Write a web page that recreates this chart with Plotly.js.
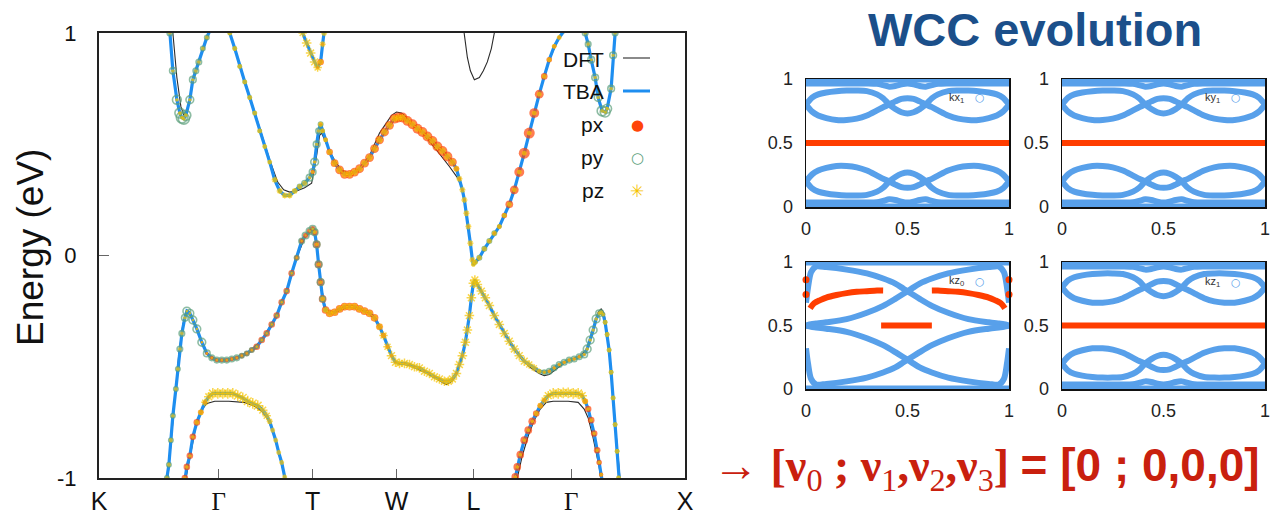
<!DOCTYPE html>
<html><head><meta charset="utf-8">
<script src="https://cdn.plot.ly/plotly-3.0.1.min.js"></script>
<style>html,body{margin:0;padding:0;background:#fff}#chart{width:1282px;height:517px}</style>
</head><body><div id="chart"></div>
<script>
// ---------- band structure: k-path ticks ----------
const kTicks = [0,120,214,298,375,473,587];
const kLabels = ['K','<span style="font-family:Liberation Serif">Γ</span>','T','W','L','<span style="font-family:Liberation Serif">Γ</span>','X'];
const eTicks = [-1,0,1];
const eLabels = ['-1','0','1'];

// ---------- TBA bands with orbital weights ----------
const c1K = [70,71,74,78,81,83,85,87,91,94, 97,100,104,108,112,119,125,131,136,141, 146,151,156,161,166,171,176,181,186,191, 196,201,206,211,214,216,218,220,222,224, 227,231,236,241,246,251,256,261,266,271, 276,281,286,291,296,300,304,309,314,319, 324,329,334,339,344,349,354,358,361,364, 366,368,370,372,374,375,377,381,386,391, 396,401,406,411,416,421,426,431,436,441, 446,451,456,461,466,471];
const c1E = [1.06,1.00,0.83,0.70,0.64,0.62,0.615,0.63,0.70,0.79, 0.83,0.87,0.93,0.98,1.02,1.07,1.04,1.00,0.93,0.85, 0.78,0.71,0.64,0.56,0.49,0.42,0.34,0.29,0.27,0.27, 0.29,0.31,0.325,0.35,0.375,0.42,0.50,0.56,0.59,0.56, 0.52,0.465,0.415,0.385,0.365,0.365,0.375,0.39,0.415,0.44, 0.48,0.52,0.555,0.585,0.615,0.62,0.62,0.605,0.59,0.57, 0.555,0.535,0.515,0.49,0.47,0.445,0.42,0.39,0.345,0.295, 0.25,0.19,0.13,0.055,-0.02,-0.04,-0.03,-0.01,0.03,0.065, 0.10,0.13,0.18,0.23,0.295,0.375,0.46,0.55,0.64,0.725, 0.805,0.88,0.94,0.98,1.01,1.04];
const c1Px = [0,0,0,0,0,0,0,0,0,0, 0,0,0,0,0,0,0,0,0,0, 0,0,0,0,0,0,0,0,0,0, 0,0,0,0.1,0.4,0.2,0,0,0.3,0.2, 0.4,0.6,0.7,0.8,0.8,0.8,0.8,0.8,0.8,0.8, 0.8,0.8,0.8,0.8,0.9,0.9,0.9,0.9,0.9,0.9, 0.9,0.9,0.9,0.9,0.9,0.9,0.8,0.5,0.3,0.2, 0.2,0.2,0.2,0.2,0.2,0.1,0.1,0.1,0.1,0.2, 0.3,0.4,0.5,0.7,0.8,0.9,1.0,1.0,0.9,0.8, 0.6,0.5,0.4,0.3,0.3,0.3];
const c1Py = [0.5,0.5,0.6,0.8,0.9,1.0,1.0,0.9,0.7,0.6, 0.5,0.5,0.4,0.4,0.4,0.3,0.3,0.3,0.3,0.3, 0.3,0.3,0.3,0.3,0.2,0.2,0.2,0.2,0.2,0.2, 0.3,0.4,0.5,0.6,0.6,0.7,0.6,0.5,0.4,0.3, 0.2,0,0,0,0,0,0,0,0,0, 0,0,0,0,0,0,0,0,0,0, 0,0,0,0,0,0,0,0,0,0, 0,0,0,0,0,0.2,0.3,0.4,0.4,0.4, 0.4,0.3,0.2,0,0,0,0,0,0,0, 0,0,0,0,0,0];
const c1Pz = [0.3,0.3,0.3,0.3,0.3,0.3,0.3,0.3,0.3,0.3, 0.3,0.3,0.3,0.3,0.3,0.3,0.3,0.4,0.4,0.4, 0.4,0.4,0.4,0.4,0.4,0.4,0.5,0.5,0.5,0.5, 0.5,0.4,0.4,0.3,0.3,0.3,0.3,0.3,0.4,0.4, 0.4,0.5,0.6,0.6,0.6,0.6,0.6,0.6,0.6,0.6, 0.6,0.6,0.6,0.6,0.6,0.6,0.6,0.6,0.6,0.6, 0.6,0.6,0.6,0.6,0.6,0.6,0.6,0.5,0.5,0.5, 0.5,0.5,0.5,0.5,0.5,0.4,0.4,0.4,0.4,0.4, 0.4,0.4,0.4,0.4,0.4,0.4,0.4,0.4,0.4,0.4, 0.4,0.4,0.4,0.4,0.4,0.4];

const c2K = [201,204,208,212,216,219,222,224,225.5,227];
const c2E = [1.05,1.00,0.955,0.91,0.87,0.845,0.87,0.95,1.00,1.06];
const c2Px = [0,0,0,0,0,0.3,0.6,0.3,0,0];
const c2Py = [0,0,0,0,0,0,0,0,0,0];
const c2Pz = [0.7,0.7,0.8,0.8,0.8,0.7,0.5,0.5,0.5,0.5];

const c3K = [484,487,490,493,497,500,504,507,509,513,515,517,518.5];
const c3E = [1.05,1.00,0.95,0.88,0.80,0.71,0.65,0.645,0.66,0.75,0.90,1.00,1.06];
const c3Px = [0,0,0,0,0,0,0,0,0,0,0,0,0];
const c3Py = [0.5,0.5,0.5,0.6,0.6,0.7,0.9,0.9,0.8,0.6,0.6,0.5,0.5];
const c3Pz = [0.3,0.3,0.3,0.3,0.3,0.3,0.3,0.3,0.3,0.3,0.3,0.3,0.3];

const v1K = [66,68,70,72,74,77,79,81,83,86, 88,91,94,98,103,108,113,118,123,128, 133,138,143,148,153,158,163,168,173,178, 183,188,193,198,203,207,211,214,216,218, 220,222,224,227,231,236,241,246,251,256, 261,266,271,276,281,285,289,293,297,301, 306,311,316,321,326,331,336,341,346,350, 354,358,361,364,367,369,371,373,375,376.5, 379,383,387,391,396,401,406,411,416,421, 426,431,436,441,446,451,456,461,466,471, 476,481,486,489,492,495,498,501,503,505, 507,509,511,513,515,517,519,520.5,522];
const v1E = [-1.06,-1.00,-0.94,-0.83,-0.72,-0.60,-0.51,-0.42,-0.35,-0.28, -0.25,-0.26,-0.29,-0.33,-0.39,-0.44,-0.46,-0.47,-0.47,-0.47, -0.465,-0.46,-0.45,-0.44,-0.425,-0.41,-0.38,-0.35,-0.31,-0.27, -0.21,-0.16,-0.08,-0.01,0.065,0.09,0.11,0.12,0.105,0.05, -0.04,-0.12,-0.195,-0.245,-0.26,-0.255,-0.24,-0.23,-0.23,-0.23, -0.24,-0.25,-0.26,-0.28,-0.32,-0.36,-0.41,-0.45,-0.48,-0.485, -0.485,-0.49,-0.50,-0.505,-0.52,-0.53,-0.545,-0.555,-0.565,-0.565, -0.555,-0.53,-0.49,-0.45,-0.39,-0.335,-0.27,-0.19,-0.125,-0.11, -0.13,-0.16,-0.19,-0.225,-0.27,-0.31,-0.35,-0.385,-0.42,-0.45, -0.475,-0.49,-0.505,-0.52,-0.525,-0.52,-0.505,-0.49,-0.48,-0.47, -0.465,-0.455,-0.445,-0.42,-0.38,-0.335,-0.285,-0.26,-0.255,-0.265, -0.30,-0.355,-0.425,-0.525,-0.64,-0.76,-0.88,-1.00,-1.06];
const v1Px = [0,0,0,0,0,0,0,0,0,0, 0,0.1,0.1,0.1,0.2,0.3,0.4,0.4,0.4,0.4, 0.4,0.4,0.5,0.5,0.5,0.6,0.6,0.6,0.6,0.6, 0.6,0.6,0.6,0.5,0.5,0.5,0.5,0.5,0.6,0.7, 0.7,0.7,0.7,0.7,0.7,0.7,0.7,0.7,0.7,0.7, 0.7,0.7,0.7,0.7,0.6,0.5,0.4,0.3,0.2,0.2, 0.2,0.2,0.2,0.2,0.2,0.2,0.2,0.2,0.2,0.2, 0.2,0.2,0.2,0.2,0.2,0.2,0.2,0.15,0.1,0.1, 0.1,0.1,0.1,0.1,0.1,0.1,0.1,0.1,0.1,0.1, 0.1,0.1,0.1,0.2,0.2,0.3,0.3,0.3,0.3,0.3, 0.3,0.3,0.2,0.1,0,0,0,0,0,0, 0,0,0,0,0,0,0,0,0];
const v1Py = [0.4,0.4,0.4,0.4,0.4,0.4,0.4,0.5,0.5,0.6, 0.7,0.7,0.7,0.7,0.7,0.6,0.5,0.5,0.5,0.5, 0.5,0.5,0.4,0.4,0.4,0.3,0.3,0.3,0.3,0.3, 0.3,0.3,0.3,0.4,0.5,0.6,0.6,0.6,0.6,0.6, 0.6,0.6,0.5,0.3,0,0,0,0,0,0, 0,0,0,0,0,0,0,0,0,0, 0,0,0,0,0,0,0,0,0,0, 0,0,0,0,0,0,0,0,0,0, 0,0,0,0,0,0,0,0,0,0, 0,0,0,0.3,0.4,0.5,0.5,0.5,0.5,0.5, 0.5,0.5,0.6,0.7,0.7,0.7,0.7,0.6,0.4,0.3, 0.3,0.3,0.3,0.3,0.3,0.3,0.3,0.3,0.3];
const v1Pz = [0.3,0.3,0.3,0.3,0.3,0.3,0.3,0.3,0.3,0.3, 0.2,0.2,0.2,0.2,0.2,0.2,0.2,0.2,0.2,0.2, 0.2,0.2,0.2,0.2,0.2,0.2,0.2,0.2,0.2,0.2, 0.2,0.2,0.2,0.2,0.2,0.2,0.2,0.2,0.3,0.3, 0.3,0.3,0.4,0.5,0.6,0.6,0.6,0.6,0.6,0.6, 0.6,0.6,0.6,0.6,0.6,0.7,0.7,0.8,0.8,0.8, 0.8,0.8,0.8,0.8,0.8,0.8,0.8,0.8,0.8,0.8, 0.8,0.8,0.8,0.8,0.8,0.8,0.8,0.8,0.8,0.8, 0.8,0.8,0.8,0.8,0.8,0.8,0.8,0.8,0.8,0.8, 0.8,0.7,0.6,0.4,0.3,0.3,0.3,0.3,0.3,0.3, 0.3,0.3,0.3,0.3,0.3,0.3,0.3,0.3,0.3,0.3, 0.4,0.4,0.4,0.4,0.4,0.4,0.4,0.4,0.4];

const v2K = [85,86,88,91,94,98,102,106,110,114,119,124,129,134,139,144,149,154,159,164,168,171,174,177,180,183,186,188];
const v2E = [-1.04,-1.00,-0.95,-0.90,-0.815,-0.75,-0.705,-0.66,-0.635,-0.62,-0.62,-0.62,-0.62,-0.62,-0.63,-0.64,-0.655,-0.665,-0.675,-0.695,-0.72,-0.745,-0.785,-0.83,-0.885,-0.93,-0.995,-1.05];
const v2Px = [0.6,0.6,0.6,0.6,0.6,0.6,0.5,0.4,0.2,0.1,0.1,0.1,0.1,0.1,0.1,0.1,0.1,0.1,0.1,0.1,0.1,0,0,0,0,0,0,0];
const v2Py = [0,0,0,0,0,0,0,0,0,0,0,0,0,0,0,0,0,0,0,0,0,0,0,0,0,0,0,0];
const v2Pz = [0.3,0.3,0.3,0.3,0.3,0.4,0.5,0.6,0.8,0.9,0.9,0.9,0.9,0.9,0.9,0.9,0.9,0.9,0.9,0.8,0.7,0.5,0.4,0.4,0.4,0.4,0.4,0.4];

const v3K = [415,417,419,422,426,430,434,438,442,446,450,455,460,465,470,475,480,484,487,490,493,496,499,501,503,505];
const v3E = [-1.04,-0.995,-0.95,-0.895,-0.83,-0.785,-0.745,-0.71,-0.675,-0.65,-0.63,-0.62,-0.62,-0.617,-0.617,-0.62,-0.62,-0.63,-0.655,-0.69,-0.74,-0.80,-0.875,-0.93,-0.985,-1.04];
const v3Px = [0.7,0.7,0.7,0.7,0.7,0.7,0.7,0.6,0.5,0.4,0.2,0.1,0.1,0.1,0.1,0.1,0.1,0.2,0.5,0.6,0.6,0.6,0.6,0.5,0.4,0.3];
const v3Py = [0,0,0,0,0,0,0,0,0,0,0,0,0,0,0,0,0,0,0,0,0,0,0,0,0,0];
const v3Pz = [0.3,0.3,0.3,0.3,0.3,0.3,0.3,0.4,0.5,0.6,0.8,0.9,0.9,0.9,0.9,0.9,0.9,0.8,0.5,0.3,0.3,0.3,0.3,0.3,0.3,0.3];

// ---------- DFT bands ----------
const dft1K = [70,74,78,82,85,89,94,101,108,113, 119,125,131,141,151,161,171,179,185,191, 198,206,213,217,221,223,227,231,237,243, 249,256,263,271,281,288,293,298,303,306, 314,324,338,351,359,364,368,372,375,381, 391,401,411,421,431,441,451,461,471];
const dft1E = [1.06,1.00,0.80,0.67,0.63,0.66,0.78,0.89,0.98,1.03, 1.07,1.04,1.00,0.86,0.72,0.57,0.43,0.33,0.295,0.285, 0.29,0.305,0.325,0.42,0.54,0.55,0.51,0.47,0.42,0.385, 0.37,0.375,0.40,0.45,0.55,0.60,0.63,0.645,0.64,0.63, 0.59,0.55,0.475,0.40,0.35,0.30,0.19,0.06,-0.04,-0.01, 0.065,0.13,0.23,0.375,0.55,0.725,0.88,0.98,1.04];
const dft4K = [66,69,72,76,80,84,88,91,98,108, 118,133,148,163,178,188,198,207,214,218, 222,227,236,251,266,276,285,293,297,311, 326,341,348,354,358,364,369,373,376.5,383, 391,401,411,421,431,441,446,451,461,471, 481,489,495,500,503,506,509,513,517,520,523];
const dft4E = [-1.06,-1.00,-0.85,-0.63,-0.44,-0.31,-0.245,-0.255,-0.33,-0.44, -0.47,-0.465,-0.44,-0.38,-0.27,-0.16,-0.01,0.09,0.12,0.05, -0.12,-0.245,-0.255,-0.23,-0.25,-0.28,-0.36,-0.45,-0.48,-0.495, -0.525,-0.565,-0.58,-0.565,-0.535,-0.45,-0.335,-0.19,-0.11,-0.16, -0.225,-0.31,-0.385,-0.45,-0.50,-0.53,-0.54,-0.535,-0.50,-0.47, -0.455,-0.42,-0.33,-0.255,-0.24,-0.26,-0.35,-0.52,-0.75,-0.93,-1.06];
const dft5K = [85,88,92,97,102,108,116,130,145,155,163,169,175,180,186,188];
const dft5E = [-1.05,-0.98,-0.88,-0.77,-0.70,-0.665,-0.655,-0.655,-0.66,-0.675,-0.70,-0.735,-0.80,-0.885,-0.995,-1.05];
const dft6K = [417,419,424,430,436,442,448,455,470,480,486,490,494,498,501,504];
const dft6E = [-1.05,-1.00,-0.90,-0.81,-0.74,-0.69,-0.66,-0.655,-0.655,-0.66,-0.69,-0.73,-0.80,-0.88,-0.95,-1.05];
const dftXK = [364,366,369,372,376,381,385,389,393,396,398];
const dftXE = [1.06,1.00,0.89,0.83,0.79,0.80,0.83,0.87,0.93,1.00,1.06];

// ---------- WCC evolution (kx1, ky1, kz1 panels) ----------
const wccK = [0,0.03,0.06,0.1,0.15,0.2,0.25,0.3,0.35,0.38,0.41,0.44,0.47,0.5,0.53,0.56,0.59,0.62,0.65,0.7,0.75,0.8,0.85,0.9,0.94,0.97,1];
const wccA = [0.80,0.855,0.88,0.895,0.905,0.91,0.91,0.905,0.88,0.85,0.80,0.765,0.74,0.73,0.74,0.765,0.80,0.85,0.88,0.905,0.91,0.91,0.905,0.895,0.88,0.855,0.80];
const wccB = [0.80,0.745,0.715,0.695,0.68,0.68,0.69,0.715,0.755,0.78,0.80,0.825,0.845,0.85,0.845,0.825,0.80,0.78,0.755,0.715,0.69,0.68,0.68,0.695,0.715,0.745,0.80];
const wccC = [0.965,0.965,0.965,0.965,0.965,0.965,0.965,0.965,0.962,0.952,0.94,0.945,0.958,0.965,0.958,0.945,0.94,0.952,0.962,0.965,0.965,0.965,0.965,0.965,0.965,0.965,0.965];
const wccA2 = [0.20,0.145,0.12,0.105,0.095,0.09,0.09,0.095,0.12,0.15,0.20,0.235,0.26,0.27,0.26,0.235,0.20,0.15,0.12,0.095,0.09,0.09,0.095,0.105,0.12,0.145,0.20];
const wccB2 = [0.20,0.255,0.285,0.305,0.32,0.32,0.31,0.285,0.245,0.22,0.20,0.175,0.155,0.15,0.155,0.175,0.20,0.22,0.245,0.285,0.31,0.32,0.32,0.305,0.285,0.255,0.20];
const wccC2 = [0.035,0.035,0.035,0.035,0.035,0.035,0.035,0.035,0.038,0.048,0.06,0.055,0.042,0.035,0.042,0.055,0.06,0.048,0.038,0.035,0.035,0.035,0.035,0.035,0.035,0.035,0.035];
const edgeK = [0,1];
const edgeLo = [0,0];
const edgeHi = [1,1];
const halfV = [0.5,0.5];

// ---------- WCC evolution (kz0 panel) ----------
const kzK = [0,0.01,0.025,0.05,0.1,0.2,0.3,0.38,0.44,0.48,0.5,0.52,0.56,0.62,0.7,0.8,0.9,0.95,0.975,0.99,1];
const kzQ1 = [0.50,0.505,0.51,0.515,0.525,0.55,0.60,0.655,0.71,0.75,0.77,0.79,0.83,0.87,0.91,0.94,0.96,0.965,0.92,0.80,0.68];
const kzQ2 = [0.68,0.80,0.92,0.965,0.96,0.94,0.91,0.87,0.83,0.79,0.77,0.75,0.71,0.655,0.60,0.55,0.525,0.515,0.51,0.505,0.50];
const kzQ3 = [0.50,0.495,0.49,0.485,0.475,0.45,0.40,0.345,0.29,0.25,0.23,0.21,0.17,0.13,0.09,0.06,0.04,0.035,0.08,0.20,0.32];
const kzQ4 = [0.32,0.20,0.08,0.035,0.04,0.06,0.09,0.13,0.17,0.21,0.23,0.25,0.29,0.345,0.40,0.45,0.475,0.485,0.49,0.495,0.50];
const redLK = [0.02,0.04,0.07,0.1,0.15,0.2,0.25,0.3,0.35,0.38];
const redLV = [0.635,0.675,0.70,0.72,0.74,0.755,0.765,0.77,0.775,0.775];
const redRK = [0.62,0.65,0.7,0.75,0.8,0.85,0.9,0.93,0.96,0.98];
const redRV = [0.775,0.775,0.77,0.765,0.755,0.74,0.72,0.70,0.675,0.635];
const redMK = [0.37,0.62];
const redMV = [0.50,0.50];
const redEdgeK = [0,0,1,1];
const redEdgeV = [0.86,0.745,0.86,0.745];

// ---------- styling ----------
const W = 1282, H = 517;
const fx = p => p / W;
const fy = p => 1 - p / H;
const TBA = '#1e8ef0', DFTC = '#2a2a2a';
const PXC = '#ff4508', PYC = '#5c9f7c', PZC = '#f6c400';
const WBLUE = '#58a0ea', WRED = '#ff3d00';
const SANS = 'Liberation Sans, Arial, sans-serif';
const SERIF = 'Liberation Serif, Times New Roman, serif';

const bands = [
  {k:c1K,e:c1E,px:c1Px,py:c1Py,pz:c1Pz},
  {k:c2K,e:c2E,px:c2Px,py:c2Py,pz:c2Pz},
  {k:c3K,e:c3E,px:c3Px,py:c3Py,pz:c3Pz},
  {k:v1K,e:v1E,px:v1Px,py:v1Py,pz:v1Pz},
  {k:v2K,e:v2E,px:v2Px,py:v2Py,pz:v2Pz},
  {k:v3K,e:v3E,px:v3Px,py:v3Py,pz:v3Pz}
];
const dfts = [[dft1K,dft1E],[c2K,c2E],[c3K,c3E],[dft4K,dft4E],[dft5K,dft5E],[dft6K,dft6E],[dftXK,dftXE]];

const traces = [];
dfts.forEach(d => traces.push({type:'scatter',mode:'lines',x:d[0],y:d[1],xaxis:'x',yaxis:'y',
  line:{color:DFTC,width:1.1},hoverinfo:'skip'}));
bands.forEach(b => traces.push({type:'scatter',mode:'lines',x:b.k,y:b.e,xaxis:'x',yaxis:'y',
  line:{color:TBA,width:3.2},hoverinfo:'skip'}));
bands.forEach(b => traces.push({type:'scatter',mode:'markers',x:b.k,y:b.e,xaxis:'x',yaxis:'y',
  marker:{symbol:'circle',color:PXC,size:b.px.map(w=>w*11),line:{width:0}},hoverinfo:'skip'}));
bands.forEach(b => traces.push({type:'scatter',mode:'markers',x:b.k,y:b.e,xaxis:'x',yaxis:'y',
  marker:{symbol:'circle-open',color:PYC,size:b.py.map(w=>w*11),line:{width:1.6}},hoverinfo:'skip'}));
bands.forEach(b => traces.push({type:'scatter',mode:'markers',x:b.k,y:b.e,xaxis:'x',yaxis:'y',
  marker:{symbol:'asterisk-open',color:PZC,size:b.pz.map(w=>w*10),line:{width:1.5}},hoverinfo:'skip'}));

function wl(x, y, ax, color, width, spline) {
  return {type:'scatter',mode:'lines',x:x,y:y,xaxis:'x'+ax,yaxis:'y'+ax,cliponaxis:false,
    line:{color:color,width:width,shape:spline?'spline':'linear',smoothing:0.8},hoverinfo:'skip'};
}
[2,3,5].forEach(ax => {
  [wccA,wccB,wccC,wccA2,wccB2,wccC2].forEach(c => traces.push(wl(wccK,c,ax,WBLUE,6,true)));
  traces.push(wl(edgeK,edgeLo,ax,WBLUE,7,false));
  traces.push(wl(edgeK,edgeHi,ax,WBLUE,7,false));
  traces.push(wl(edgeK,halfV,ax,WRED,6,false));
});
[kzQ1,kzQ2,kzQ3,kzQ4].forEach(c => traces.push(wl(kzK,c,4,WBLUE,6,true)));
traces.push(wl(edgeK,edgeLo,4,WBLUE,7,false));
traces.push(wl(edgeK,edgeHi,4,WBLUE,7,false));
traces.push(wl(redLK,redLV,4,WRED,6,true));
traces.push(wl(redRK,redRV,4,WRED,6,true));
traces.push(wl(redMK,redMV,4,WRED,6,false));
traces.push({type:'scatter',mode:'markers',x:redEdgeK,y:redEdgeV,xaxis:'x4',yaxis:'y4',cliponaxis:false,
  marker:{color:WRED,size:7},hoverinfo:'skip'});

// ---------- axes ----------
const mainX = {domain:[fx(99),fx(685)],range:[0,587],tickvals:kTicks,ticktext:kLabels,ticks:'inside',ticklen:9,
  tickwidth:1.2,tickcolor:'#666',showline:true,mirror:true,linewidth:2,linecolor:'#222',showgrid:false,zeroline:false,
  tickfont:{family:SANS,size:25,color:'#111'},ticklabelstandoff:0,anchor:'y',fixedrange:true};
const mainY = {domain:[fy(478),fy(33)],range:[-1,1],tickvals:eTicks,ticktext:eLabels,ticks:'inside',ticklen:10,
  tickwidth:1.2,tickcolor:'#666',showline:true,mirror:true,linewidth:2,linecolor:'#222',showgrid:false,zeroline:false,
  tickfont:{family:SANS,size:22,color:'#111'},ticklabelstandoff:16,anchor:'x',fixedrange:true};
function wAxes(x0,x1,y0,y1,n){
  const base = {range:[0,1],tickvals:[0,0.5,1],ticktext:['0','0.5','1'],ticks:'',showline:true,mirror:true,
    linewidth:1.5,linecolor:'#111',showgrid:false,zeroline:false,tickfont:{family:SANS,size:18,color:'#222'},fixedrange:true};
  return [Object.assign({},base,{domain:[fx(x0),fx(x1)],anchor:'y'+n,ticklabelstandoff:5}),
          Object.assign({},base,{domain:[fy(y1),fy(y0)],anchor:'x'+n,ticklabelstandoff:8})];
}
const [x2,y2] = wAxes(806,1009,79,207,2);
const [x3,y3] = wAxes(1062,1265,79,207,3);
const [x4,y4] = wAxes(806,1009,262,389,4);
const [x5,y5] = wAxes(1062,1265,262,389,5);

// ---------- annotations ----------
const ann = [];
const P = {xref:'paper',yref:'paper',showarrow:false,xanchor:'center',yanchor:'middle'};
ann.push(Object.assign({},P,{text:'Energy (eV)',x:fx(30),y:fy(248),textangle:-90,
  font:{family:SANS,size:37,color:'#111'}}));
const legItems = [['DFT',59],['TBA',92],['px',125],['py',158],['pz',191]];
legItems.forEach(l => ann.push(Object.assign({},P,{text:l[0],x:fx(606),y:fy(l[1]),xanchor:'right',
  font:{family:SANS,size:21,color:'#111'}})));
ann.push(Object.assign({},P,{text:'●',x:fx(637),y:fy(125),font:{family:'DejaVu Sans',size:15,color:PXC}}));
ann.push(Object.assign({},P,{text:'○',x:fx(637),y:fy(158),font:{family:'DejaVu Sans',size:15,color:PYC}}));
ann.push(Object.assign({},P,{text:'✳',x:fx(637),y:fy(191),font:{family:'DejaVu Sans',size:17,color:PZC}}));
ann.push(Object.assign({},P,{text:'WCC evolution',x:fx(1035),y:fy(29),
  font:{family:SANS,size:47,color:'#1b4f8a',weight:700}}));
const pLab = [['kx<sub>1</sub>',2,0.855],['ky<sub>1</sub>',3,0.855],['kz<sub>0</sub>',4,0.85],['kz<sub>1</sub>',5,0.84]];
pLab.forEach(p => {
  ann.push({text:p[0],xref:'x'+p[1],yref:'y'+p[1],x:0.74,y:p[2],showarrow:false,font:{family:SANS,size:11,color:'#333'}});
  ann.push({text:'○',xref:'x'+p[1],yref:'y'+p[1],x:0.855,y:p[2],showarrow:false,font:{family:'DejaVu Sans',size:11,color:WBLUE}});
});
ann.push(Object.assign({},P,{text:'→ <b>[ν</b><sub>0</sub><b> ; ν</b><sub>1</sub><b>,ν</b><sub>2</sub><b>,ν</b><sub>3</sub><b>]</b> <b><span style="font-family:Liberation Sans">= [0 ; 0,0,0]</span></b>',
  x:fx(711),y:fy(468),xanchor:'left',font:{family:SERIF,size:46,color:'#c9200e'}}));

const shapes = [
  {type:'line',xref:'paper',yref:'paper',x0:fx(623),x1:fx(650),y0:fy(58),y1:fy(58),line:{color:DFTC,width:1.1}},
  {type:'line',xref:'paper',yref:'paper',x0:fx(623),x1:fx(650),y0:fy(91),y1:fy(91),line:{color:TBA,width:3}}
];

const layout = {width:W,height:H,margin:{l:0,r:0,t:0,b:0},paper_bgcolor:'#fff',plot_bgcolor:'#fff',showlegend:false,
  xaxis:mainX,yaxis:mainY,xaxis2:x2,yaxis2:y2,xaxis3:x3,yaxis3:y3,xaxis4:x4,yaxis4:y4,xaxis5:x5,yaxis5:y5,
  annotations:ann,shapes:shapes};
Plotly.newPlot('chart',traces,layout,{staticPlot:true,displayModeBar:false});
</script></body></html>
